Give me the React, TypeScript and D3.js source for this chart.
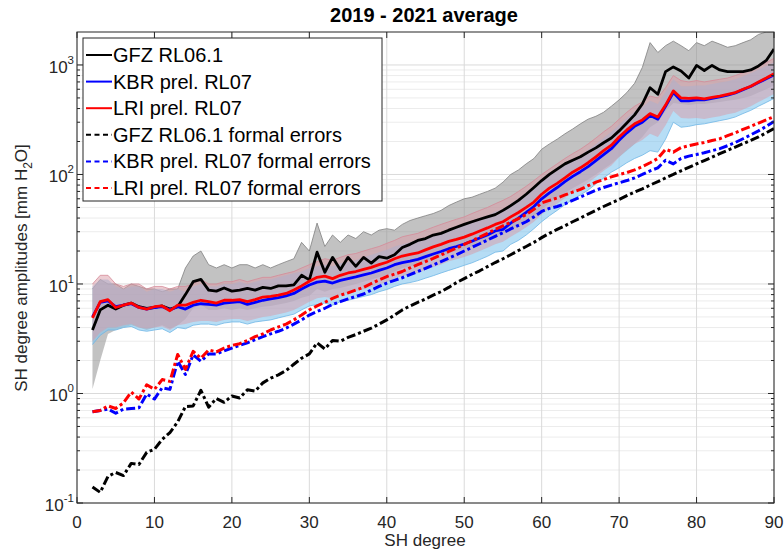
import React from 'react';
import * as d3 from 'd3';

// SH degrees 2..90
const DEGREES = d3.range(2, 91);

const GFZ_MEAN = [
  3.8, 5.8, 6.4, 5.9, 6.4, 6.7, 6.2, 6.0, 6.1, 6.3,
  5.9, 6.2, 8.0, 10.5, 11.0, 8.8, 8.6, 9.2, 8.6, 8.8,
  9.1, 8.8, 9.3, 9.1, 9.6, 9.6, 9.8, 12.0, 10.9, 19.5,
  12.8, 17.5, 13.5, 17.5, 14.5, 17.5, 15.5, 17.8, 17.2, 18.5,
  21.5, 23, 25, 26, 28, 29, 31, 33, 35, 37,
  39, 41, 43, 47, 52, 58, 66, 76, 88, 100,
  112, 125, 135, 145, 160, 175, 195, 215, 250, 295,
  350, 440, 620, 540, 870, 960, 880, 760, 990, 890,
  990, 900, 870, 870, 870, 900, 980, 1100, 1400,
];
const KBR_MEAN = [
  5.0, 6.8, 7.0, 6.2, 6.4, 6.6, 6.1, 5.9, 6.1, 6.2,
  5.8, 6.2, 5.9, 6.4, 6.6, 6.5, 6.4, 6.7, 6.8, 6.9,
  6.5, 6.8, 7.1, 7.3, 7.5, 7.8, 8.2, 9.0, 9.8, 10.4,
  10.6, 10.2, 10.8, 11.2, 11.6, 12.1, 12.6, 13.3, 14.0, 15.0,
  15.7, 16.2, 16.8, 17.8, 18.8, 19.8, 21.0, 22.0, 23.2, 24.6,
  26.3, 28.0, 30.5, 31.5, 36, 40, 45, 51, 60, 68,
  76, 86, 96, 106, 118, 134, 152, 172, 205, 240,
  275, 300, 345, 320, 420, 560, 470, 470, 480, 480,
  495, 510, 530, 555, 595, 635, 690, 750, 810,
];
const LRI_MEAN = [
  4.9, 6.9, 7.2, 6.1, 6.4, 6.7, 6.1, 5.9, 6.2, 6.3,
  5.7, 6.4, 6.4, 6.8, 7.1, 6.9, 6.7, 7.1, 7.1, 7.2,
  6.9, 7.2, 7.6, 7.7, 7.9, 8.2, 8.8, 9.6, 10.6, 11.5,
  11.8, 11.2, 12.0, 12.6, 13.0, 13.6, 14.2, 15.0, 15.8, 17.0,
  18.0, 18.6, 19.2, 20.5, 21.8, 23.0, 24.5, 25.5, 26.8, 28.5,
  30.5, 32.5, 35, 37, 41, 45, 50, 56, 66, 75,
  83, 93, 105, 115, 128, 145, 165, 185, 220, 255,
  290, 315, 360, 335, 430, 580, 500, 495, 500, 490,
  505, 520, 540, 560, 600, 640, 700, 760, 830,
];
const GFZ_FORMAL = [
  0.14, 0.125, 0.175, 0.19, 0.178, 0.23, 0.225, 0.29, 0.31, 0.38,
  0.44, 0.55, 0.76, 0.77, 1.07, 0.75, 0.9, 0.83, 0.95, 0.91,
  1.08, 1.05, 1.25, 1.38, 1.48, 1.62, 1.85, 2.1, 2.3, 2.9,
  2.55, 3.05, 3.0, 3.25, 3.45, 3.7, 3.95, 4.3, 4.7, 5.2,
  5.8, 6.3, 6.8, 7.3, 7.9, 8.5, 9.3, 10.3, 11.2, 12.2,
  13.2, 14.4, 15.7, 17.0, 18.5, 20.2, 22.0, 24.0, 26.5, 29,
  31.5, 34, 37, 40, 43.5, 47, 51, 55, 59, 64,
  69, 74, 80, 86, 93, 100, 108, 116, 125, 134,
  144, 155, 166, 178, 191, 205, 220, 240, 262,
];
const KBR_FORMAL = [
  0.68, 0.70, 0.72, 0.66, 0.72, 0.73, 0.74, 0.99, 0.89, 1.13,
  1.09, 1.97, 1.49, 2.25, 1.97, 2.3, 2.3, 2.45, 2.6, 2.75,
  2.9, 3.1, 3.3, 3.5, 3.7, 3.95, 4.3, 4.7, 5.2, 5.6,
  6.0, 6.5, 6.9, 7.3, 7.7, 8.1, 8.8, 9.5, 10.2, 10.8,
  11.4, 12.2, 13.0, 13.9, 14.9, 16.0, 17.2, 18.5, 20.0, 21.6,
  23.3, 25.2, 27.2, 29.4, 31.8, 34.3, 37, 41, 46, 49,
  51, 54, 58, 62, 67, 72, 76, 80, 84, 88,
  93, 100, 108, 115, 135, 125, 140, 147, 152, 158,
  165, 172, 183, 196, 212, 230, 250, 275, 305,
];
const LRI_FORMAL = [
  0.68, 0.70, 0.77, 0.73, 0.82, 1.03, 0.89, 1.2, 1.09, 1.34,
  1.29, 2.27, 1.66, 2.43, 2.1, 2.5, 2.4, 2.6, 2.75, 2.85,
  3.05, 3.3, 3.5, 3.8, 4.05, 4.3, 4.7, 5.2, 5.8, 6.3,
  6.8, 7.4, 7.9, 8.3, 8.8, 9.3, 10.1, 10.9, 11.7, 12.3,
  13.0, 14.0, 15.0, 16.0, 17.1, 18.4, 19.8, 21.3, 23.0, 24.8,
  26.8, 29, 31.5, 34, 36.5, 39.5, 43, 48, 55, 58,
  61, 65, 69, 73, 79, 85, 90, 95, 100, 104,
  110, 118, 128, 140, 170, 160, 176, 183, 190, 196,
  204, 212, 226, 240, 258, 275, 295, 315, 338,
];

// monthly solutions: spread (upper / lower envelopes)
const GFZ_MONTHLY_UP = [
  9, 11, 10, 10, 9, 10, 9.5, 9, 9, 8.5,
  9, 9, 14, 18, 20, 15, 14, 15, 14, 15,
  15, 14, 15, 14, 15, 16, 17, 24, 20, 36,
  22, 28, 24, 28, 26, 30, 28, 31, 32, 31,
  35, 38, 40, 42, 44, 47, 52, 56, 60, 62,
  66, 70, 75, 85, 100, 110, 125, 140, 170, 190,
  210, 235, 260, 290, 320, 340, 370, 420, 480, 560,
  680, 950, 1600, 1300, 1500, 1650, 1500, 1350, 1600, 1500,
  1650, 1550, 1450, 1500, 1600, 1700, 1900, 2000, 2000,
];
const GFZ_MONTHLY_LO = [
  1.1, 2.0, 3.5, 3.8, 4.0, 4.2, 4.0, 3.8, 4.0, 4.2,
  3.9, 4.2, 4.8, 6.0, 6.5, 5.8, 5.8, 6.0, 5.8, 6.0,
  5.8, 6.0, 6.2, 6.3, 6.5, 6.7, 7.0, 7.5, 7.8, 9.0,
  8.5, 9.0, 9.2, 9.6, 10, 10.5, 11, 11.5, 12, 13,
  14, 14.5, 15, 16, 17, 18, 19, 20, 21, 22,
  23.5, 25, 27, 29, 31, 34, 38, 42, 48, 55,
  62, 68, 75, 82, 90, 100, 112, 125, 145, 165,
  190, 220, 270, 300, 380, 450, 440, 430, 440, 440,
  450, 460, 470, 480, 500, 520, 560, 600, 650,
];
const LRI_MONTHLY_UP = [
  10, 12, 12, 10, 9.5, 10, 10, 9, 9.5, 9.5,
  9, 9.5, 9.5, 10, 11, 10, 10, 10.5, 10.5, 11,
  10.5, 11, 11.5, 11.5, 12, 12.5, 13, 14, 15, 16,
  17, 16.5, 17.5, 18.5, 19, 20, 21, 22, 23.5, 25,
  27, 28, 29, 31, 33, 35, 37, 39, 41, 44,
  47, 50, 54, 58, 63, 70, 78, 88, 100, 112,
  125, 140, 155, 170, 190, 215, 245, 275, 320, 370,
  420, 460, 520, 500, 620, 800, 720, 700, 720, 700,
  720, 740, 760, 800, 850, 900, 980, 1050, 1150,
];
const LRI_MONTHLY_LO = [
  3.0, 3.6, 4.0, 4.0, 4.2, 4.3, 4.0, 3.9, 4.0, 4.1,
  3.8, 4.2, 4.3, 4.5, 4.6, 4.6, 4.5, 4.7, 4.8, 4.8,
  4.6, 4.8, 5.0, 5.1, 5.3, 5.5, 5.8, 6.3, 6.9, 7.4,
  7.6, 7.4, 7.9, 8.3, 8.6, 9.0, 9.4, 9.9, 10.4, 11.2,
  11.8, 12.2, 12.6, 13.5, 14.3, 15.1, 16.1, 16.8, 17.6, 18.7,
  20, 21.4, 23, 24.3, 27, 29.6, 33, 37, 43, 49,
  54, 61, 69, 75, 84, 95, 108, 121, 144, 167,
  190, 206, 236, 220, 282, 380, 328, 325, 328, 321,
  331, 341, 354, 367, 393, 420, 459, 498, 544,
];
const KBR_MONTHLY_UP = [
  9.5, 11, 11, 9.5, 9, 9.5, 9.5, 8.5, 9, 9,
  8.5, 9, 8.5, 9.5, 10, 9.5, 9.5, 10, 10, 10.5,
  10, 10.5, 11, 11, 11.5, 12, 12.5, 13, 14, 14.5,
  15, 14.5, 15.5, 16, 16.5, 17.5, 18.5, 19.5, 20.5, 22,
  23, 24, 25, 26.5, 28, 29.5, 31.5, 33, 35, 37,
  40, 42, 46, 48, 54, 60, 67, 76, 88, 98,
  110, 122, 136, 150, 168, 190, 215, 245, 285, 330,
  375, 410, 470, 440, 570, 740, 640, 640, 650, 650,
  670, 690, 710, 740, 790, 840, 910, 980, 1060,
];
const KBR_MONTHLY_LO = [
  2.8, 3.4, 3.8, 3.8, 4.0, 4.1, 3.8, 3.7, 3.8, 3.9,
  3.6, 4.0, 3.9, 4.2, 4.3, 4.3, 4.2, 4.4, 4.5, 4.5,
  4.3, 4.5, 4.6, 4.7, 4.9, 5.1, 5.3, 5.8, 6.3, 6.5,
  6.7, 6.4, 6.9, 7.1, 7.4, 7.7, 8.0, 8.5, 8.9, 9.5,
  10, 10.3, 10.7, 11.3, 11.9, 12.6, 13.3, 14, 14.8, 15.6,
  16.7, 17.9, 19.5, 20, 23, 25, 28, 32, 37, 42,
  47, 53, 59, 65, 72, 82, 93, 105, 115, 128,
  140, 150, 165, 160, 210, 300, 270, 275, 285, 290,
  300, 310, 320, 335, 360, 385, 420, 455, 495,
];

const X_TICKS = [0, 10, 20, 30, 40, 50, 60, 70, 80, 90];
const Y_EXPONENTS = [-1, 0, 1, 2, 3];
const LEGEND_LABELS = [
  'GFZ RL06.1',
  'KBR prel. RL07',
  'LRI prel. RL07',
  'GFZ RL06.1 formal errors',
  'KBR prel. RL07 formal errors',
  'LRI prel. RL07 formal errors',
];

const W = 784;
const H = 553;
const L = 77;
const R = 774;
const T = 32;
const B = 503;
const FONT = "'Liberation Sans', Arial, Helvetica, sans-serif";
const AX = '#262626';

export default function App() {
  const x = d3.scaleLinear().domain([0, 90]).range([L, R]);
  const y = d3.scaleLog().domain([0.1, 2000]).range([B, T]);

  const line = (vals: number[]) =>
    d3.line<number>().x((_, i) => x(DEGREES[i])).y((v) => y(v))(vals) || '';
  const band = (lo: number[], up: number[]) =>
    d3
      .area<number>()
      .x((_, i) => x(DEGREES[i]))
      .y0((v) => y(v))
      .y1((_, i) => y(up[i]))(lo) || '';

  const minor: number[] = [];
  Y_EXPONENTS.forEach((e) => {
    for (let k = 2; k <= 9; k++) {
      const v = k * Math.pow(10, e);
      if (v < 2000) minor.push(v);
    }
  });

  const series = [
    { vals: GFZ_MEAN, color: '#000000', dash: null },
    { vals: KBR_MEAN, color: '#0000ff', dash: null },
    { vals: LRI_MEAN, color: '#ff0000', dash: null },
    { vals: GFZ_FORMAL, color: '#000000', dash: '9,3,3,3' },
    { vals: KBR_FORMAL, color: '#0000ff', dash: '9,3,3,3' },
    { vals: LRI_FORMAL, color: '#ff0000', dash: '9,3,3,3' },
  ];

  return (
    <svg
      width={W}
      height={H}
      style={{ position: 'absolute', left: 0, top: 0, background: '#fff' }}
      fontFamily={FONT}
    >
      <defs>
        <clipPath id="plotclip">
          <rect x={L} y={T} width={R - L} height={B - T} />
        </clipPath>
      </defs>
      <rect x={0} y={0} width={W} height={H} fill="#fff" />
      {/* minor grid */}
      {minor.map((v) => (
        <line key={'mg' + v} x1={L} x2={R} y1={y(v)} y2={y(v)} stroke="#ececec" strokeWidth={1} />
      ))}
      {/* major grid */}
      {Y_EXPONENTS.map((e) => (
        <line key={'yg' + e} x1={L} x2={R} y1={y(Math.pow(10, e))} y2={y(Math.pow(10, e))} stroke="#dadada" strokeWidth={1} />
      ))}
      {X_TICKS.map((t) => (
        <line key={'xg' + t} x1={x(t)} x2={x(t)} y1={T} y2={B} stroke="#dadada" strokeWidth={1} />
      ))}

      <g clipPath="url(#plotclip)">
        {/* monthly solutions */}
        <path d={band(GFZ_MONTHLY_LO, GFZ_MONTHLY_UP)} fill="#8f8f8f" fillOpacity={0.55} />
        <path d={line(GFZ_MONTHLY_UP)} fill="none" stroke="#808080" strokeWidth={0.8} />
        <path d={band(KBR_MONTHLY_LO, KBR_MONTHLY_UP)} fill="#86c6ee" fillOpacity={0.6} />
        <path d={line(KBR_MONTHLY_LO)} fill="none" stroke="#6fb6e6" strokeWidth={0.8} />
        <path d={band(LRI_MONTHLY_LO, LRI_MONTHLY_UP)} fill="#d99aa6" fillOpacity={0.5} />
        <path d={line(LRI_MONTHLY_UP)} fill="none" stroke="#d58a98" strokeWidth={0.8} />

        {series.map((s, i) => (
          <path
            key={'s' + i}
            d={line(s.vals)}
            fill="none"
            stroke={s.color}
            strokeWidth={s.dash ? 3 : 2.8}
            strokeDasharray={s.dash || undefined}
            strokeLinejoin="round"
          />
        ))}
      </g>

      {/* axes box */}
      <rect x={L} y={T} width={R - L} height={B - T} fill="none" stroke={AX} strokeWidth={1} />
      {/* x ticks */}
      {X_TICKS.map((t) => (
        <g key={'xt' + t}>
          <line x1={x(t)} x2={x(t)} y1={B} y2={B - 6} stroke={AX} />
          <line x1={x(t)} x2={x(t)} y1={T} y2={T + 6} stroke={AX} />
          <text x={x(t)} y={528} textAnchor="middle" fontSize={17} fill={AX}>
            {t}
          </text>
        </g>
      ))}
      {/* y ticks */}
      {Y_EXPONENTS.map((e) => {
        const yy = y(Math.pow(10, e));
        return (
          <g key={'yt' + e}>
            <line x1={L} x2={L + 6} y1={yy} y2={yy} stroke={AX} />
            <line x1={R} x2={R - 6} y1={yy} y2={yy} stroke={AX} />
            <text x={74} y={yy + 8} textAnchor="end" fontSize={17} fill={AX}>
              10
              <tspan fontSize={11.5} dy={-9}>
                {e}
              </tspan>
            </text>
          </g>
        );
      })}
      {minor.map((v) => (
        <g key={'ymt' + v}>
          <line x1={L} x2={L + 3} y1={y(v)} y2={y(v)} stroke={AX} />
          <line x1={R} x2={R - 3} y1={y(v)} y2={y(v)} stroke={AX} />
        </g>
      ))}

      {/* title and labels */}
      <text x={424} y={22} textAnchor="middle" fontSize={20} fontWeight="bold" fill="#000">
        2019 - 2021 average
      </text>
      <text x={425} y={546} textAnchor="middle" fontSize={17} fill={AX}>
        SH degree
      </text>
      <text transform="translate(27,268) rotate(-90)" textAnchor="middle" fontSize={17} fill={AX}>
        SH degree amplitudes [mm H
        <tspan fontSize={12} dy={5}>2</tspan>
        <tspan dy={-5}>O]</tspan>
      </text>

      {/* legend */}
      <rect x={83} y={38} width={299} height={163} fill="#fff" stroke={AX} strokeWidth={1} />
      {LEGEND_LABELS.map((lab, i) => {
        const yy = 55 + i * 26.6;
        const s = series[i];
        return (
          <g key={'lg' + i}>
            <line
              x1={86}
              x2={112}
              y1={yy}
              y2={yy}
              stroke={s.color}
              strokeWidth={2}
              strokeDasharray={s.dash ? '5,3.5' : undefined}
            />
            <text x={113} y={yy + 7} fontSize={20} fill="#000">
              {lab}
            </text>
          </g>
        );
      })}
    </svg>
  );
}
